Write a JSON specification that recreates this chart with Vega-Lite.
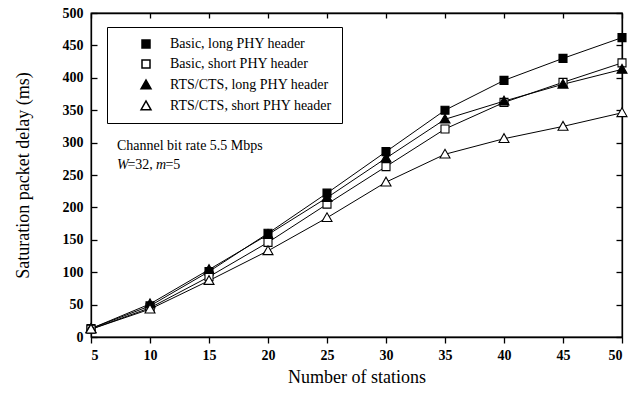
{
  "$schema": "https://vega.github.io/schema/vega-lite/v6.json",
  "width": 531,
  "height": 324,
  "autosize": "none",
  "padding": {"left": 91, "top": 13, "right": 22, "bottom": 58},
  "background": "white",
  "config": {
    "font": "Liberation Serif",
    "view": {"stroke": "black", "strokeWidth": 1.3},
    "axis": {
      "grid": false,
      "domainColor": "black",
      "domainWidth": 1.3,
      "tickColor": "black",
      "tickWidth": 1.3,
      "labelColor": "black",
      "titleColor": "black",
      "labelFont": "Liberation Serif",
      "titleFont": "Liberation Serif",
      "labelFontSize": 14,
      "labelFontWeight": "bold",
      "titleFontSize": 18,
      "titleFontWeight": "normal"
    }
  },
  "datasets": {
    "delay": [
      {"series": "Basic, long PHY header", "stations": 5, "delay": 13},
      {"series": "Basic, long PHY header", "stations": 10, "delay": 48},
      {"series": "Basic, long PHY header", "stations": 15, "delay": 101},
      {"series": "Basic, long PHY header", "stations": 20, "delay": 160},
      {"series": "Basic, long PHY header", "stations": 25, "delay": 222},
      {"series": "Basic, long PHY header", "stations": 30, "delay": 286},
      {"series": "Basic, long PHY header", "stations": 35, "delay": 350},
      {"series": "Basic, long PHY header", "stations": 40, "delay": 396},
      {"series": "Basic, long PHY header", "stations": 45, "delay": 430},
      {"series": "Basic, long PHY header", "stations": 50, "delay": 462},
      {"series": "Basic, short PHY header", "stations": 5, "delay": 12},
      {"series": "Basic, short PHY header", "stations": 10, "delay": 45},
      {"series": "Basic, short PHY header", "stations": 15, "delay": 93},
      {"series": "Basic, short PHY header", "stations": 20, "delay": 146},
      {"series": "Basic, short PHY header", "stations": 25, "delay": 205},
      {"series": "Basic, short PHY header", "stations": 30, "delay": 263},
      {"series": "Basic, short PHY header", "stations": 35, "delay": 321},
      {"series": "Basic, short PHY header", "stations": 40, "delay": 362},
      {"series": "Basic, short PHY header", "stations": 45, "delay": 393},
      {"series": "Basic, short PHY header", "stations": 50, "delay": 423},
      {"series": "RTS/CTS, long PHY header", "stations": 5, "delay": 13},
      {"series": "RTS/CTS, long PHY header", "stations": 10, "delay": 51},
      {"series": "RTS/CTS, long PHY header", "stations": 15, "delay": 104},
      {"series": "RTS/CTS, long PHY header", "stations": 20, "delay": 158},
      {"series": "RTS/CTS, long PHY header", "stations": 25, "delay": 215},
      {"series": "RTS/CTS, long PHY header", "stations": 30, "delay": 276},
      {"series": "RTS/CTS, long PHY header", "stations": 35, "delay": 336},
      {"series": "RTS/CTS, long PHY header", "stations": 40, "delay": 364},
      {"series": "RTS/CTS, long PHY header", "stations": 45, "delay": 390},
      {"series": "RTS/CTS, long PHY header", "stations": 50, "delay": 413},
      {"series": "RTS/CTS, short PHY header", "stations": 5, "delay": 12},
      {"series": "RTS/CTS, short PHY header", "stations": 10, "delay": 43},
      {"series": "RTS/CTS, short PHY header", "stations": 15, "delay": 87},
      {"series": "RTS/CTS, short PHY header", "stations": 20, "delay": 133},
      {"series": "RTS/CTS, short PHY header", "stations": 25, "delay": 184},
      {"series": "RTS/CTS, short PHY header", "stations": 30, "delay": 239},
      {"series": "RTS/CTS, short PHY header", "stations": 35, "delay": 282},
      {"series": "RTS/CTS, short PHY header", "stations": 40, "delay": 306},
      {"series": "RTS/CTS, short PHY header", "stations": 45, "delay": 325},
      {"series": "RTS/CTS, short PHY header", "stations": 50, "delay": 346}
    ],
    "noteRoman": [
      {"stations": 7.2, "delay": 295, "text": "Channel bit rate 5.5 Mbps"},
      {"stations": 8.09, "delay": 265, "text": "=32,"},
      {"stations": 11.31, "delay": 265, "text": "=5"}
    ],
    "noteItalic": [
      {"stations": 7.2, "delay": 265, "text": "W"},
      {"stations": 10.51, "delay": 265, "text": "m"}
    ]
  },
  "layer": [
    {
      "data": {"name": "delay"},
      "mark": {"type": "line", "color": "black", "strokeWidth": 1},
      "encoding": {
        "x": {
          "field": "stations", "type": "quantitative",
          "scale": {"domain": [5, 50], "nice": false, "zero": false},
          "axis": {"orient": "bottom", "values": [5, 10, 15, 20, 25, 30, 35, 40, 45, 50], "tickSize": 6, "labelPadding": 5, "title": "Number of stations", "titlePadding": 6}
        },
        "y": {
          "field": "delay", "type": "quantitative",
          "scale": {"domain": [0, 500], "nice": false},
          "axis": {"orient": "left", "values": [0, 50, 100, 150, 200, 250, 300, 350, 400, 450, 500], "tickSize": -6, "labelPadding": 14, "title": "Saturation packet delay (ms)", "titlePadding": 30}
        },
        "detail": {"field": "series"}
      }
    },
    {
      "data": {"name": "delay"},
      "mark": {"type": "point", "filled": true, "stroke": "black", "strokeWidth": 1.1, "opacity": 1, "size": 64},
      "encoding": {
        "x": {
          "field": "stations", "type": "quantitative",
          "axis": {"orient": "top", "values": [5, 10, 15, 20, 25, 30, 35, 40, 45, 50], "tickSize": -5, "labels": false, "title": null}
        },
        "y": {
          "field": "delay", "type": "quantitative",
          "axis": {"orient": "right", "values": [0, 50, 100, 150, 200, 250, 300, 350, 400, 450, 500], "tickSize": -6, "labels": false, "title": null}
        },
        "shape": {
          "field": "series", "type": "nominal",
          "scale": {
            "domain": ["Basic, long PHY header", "Basic, short PHY header", "RTS/CTS, long PHY header", "RTS/CTS, short PHY header"],
            "range": ["square", "square", "M-1.25,0.95L0,-1.25L1.25,0.95Z", "M-1.25,0.95L0,-1.25L1.25,0.95Z"]
          },
          "legend": {
            "title": null,
            "orient": "none",
            "legendX": 16,
            "legendY": 14,
            "padding": 10,
            "strokeColor": "black",
            "fillColor": "white",
            "symbolSize": 64,
            "symbolOffset": 22,
            "labelOffset": 17,
            "rowPadding": 6,
            "labelFont": "Liberation Serif",
            "labelFontSize": 14,
            "labelColor": "black",
            "labelLimit": 300
          }
        },
        "fill": {
          "field": "series", "type": "nominal",
          "scale": {
            "domain": ["Basic, long PHY header", "Basic, short PHY header", "RTS/CTS, long PHY header", "RTS/CTS, short PHY header"],
            "range": ["black", "white", "black", "white"]
          },
          "legend": null
        }
      }
    },
    {
      "data": {"name": "noteRoman"},
      "mark": {"type": "text", "align": "left", "baseline": "middle", "font": "Liberation Serif", "fontSize": 14, "color": "black"},
      "encoding": {
        "x": {"field": "stations", "type": "quantitative", "axis": null},
        "y": {"field": "delay", "type": "quantitative", "axis": null},
        "text": {"field": "text"}
      }
    },
    {
      "data": {"name": "noteItalic"},
      "mark": {"type": "text", "align": "left", "baseline": "middle", "font": "Liberation Serif", "fontSize": 14, "fontStyle": "italic", "color": "black"},
      "encoding": {
        "x": {"field": "stations", "type": "quantitative", "axis": null},
        "y": {"field": "delay", "type": "quantitative", "axis": null},
        "text": {"field": "text"}
      }
    }
  ],
  "resolve": {"axis": {"x": "independent", "y": "independent"}}
}
